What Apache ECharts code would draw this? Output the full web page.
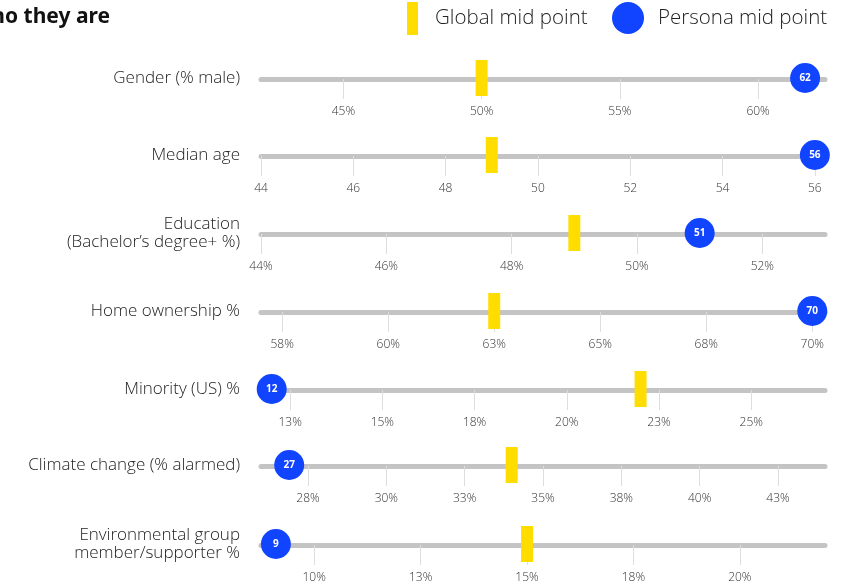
<!DOCTYPE html>
<html>
<head>
<meta charset="utf-8">
<title>Who they are</title>
<script src="https://cdn.jsdelivr.net/npm/echarts@6/dist/echarts.min.js"></script>
<style>
	html,body{margin:0;padding:0;background:#fff;}
	#chart{width:846px;height:586px;}
</style>
</head>
<body>
<div id="chart"></div>
<script>
var rowNames = [
	'Gender (% male)',
	'Median age',
	'Education\n(Bachelor\u2019s degree+ %)',
	'Home ownership %',
	'Minority (US) %',
	'Climate change (% alarmed)',
	'Environmental group\nmember/supporter %'
];
var globalMid = [50, 49, 49, 62.5, 22, 34, 15];
var personaMid = [61.7, 56, 51, 70, 12, 26.9, 9.1];
var axisMin = [42.02, 44, 44, 57, 11.71, 26, 8.75];
var axisMax = [62.42, 56.22, 53, 70.3, 27, 44, 22];
var tickValues = [
	[45, 50, 55, 60],
	[44, 46, 48, 50, 52, 54, 56],
	[44, 46, 48, 50, 52],
	[57.5, 60, 62.5, 65, 67.5, 70],
	[12.5, 15, 17.5, 20, 22.5, 25],
	[27.5, 30, 32.5, 35, 37.5, 40, 42.5],
	[10, 12.5, 15, 17.5, 20]
];
var tickSuffix = ['%', '', '%', '%', '%', '%', '%'];

var rowY = [78, 155, 233, 311, 389, 465, 544];   // line centre of each row
var YELLOW = '#FFDD00';
var BLUE = '#1144FF';
var FONT = '"Open Sans"';

function init(){
	var myChart = echarts.init(document.getElementById('chart'), null, {renderer:'canvas'});
	myChart.setOption(getOption());
}

function getOption(){
	var grids = [], xAxes = [], yAxes = [], series = [];
	rowNames.forEach(function(name, i){
		var suffix = tickSuffix[i];
		grids.push({
			left: 261,
			right: 21,
			top: rowY[i] - 1,
			height: 2,
			outerBoundsMode: 'none'
		});
		xAxes.push({
			gridIndex: i,
			type: 'value',
			min: axisMin[i],
			max: axisMax[i],
			position: 'bottom',
			axisLine: {
				show: true,
				onZero: false,
				lineStyle: {color: '#c4c4c4', width: 5}
			},
			axisTick: {
				show: true,
				length: 20,
				customValues: tickValues[i],
				lineStyle: {color: '#dedede', width: 1}
			},
			axisLabel: {
				customValues: tickValues[i],
				margin: 27,
				fontFamily: FONT,
				fontWeight: 300,
				fontSize: 12,
				color: '#333',
				formatter: function(v){ return Math.round(v) + suffix; }
			},
			splitLine: {show: false}
		});
		yAxes.push({
			gridIndex: i,
			type: 'category',
			data: [name],
			axisLine: {show: false},
			axisTick: {show: false},
			splitLine: {show: false},
			axisLabel: {
				margin: 21,
				fontFamily: FONT,
				fontWeight: 300,
				fontSize: 17,
				lineHeight: 18,
				color: '#222',
				align: 'right'
			}
		});
		series.push({
			name: 'Global mid point',
			type: 'scatter',
			xAxisIndex: i,
			yAxisIndex: i,
			data: [[globalMid[i], 0]],
			symbol: 'rect',
			symbolSize: [12, 36],
			itemStyle: {color: YELLOW, opacity: 1},
			z: 3
		});
		series.push({
			name: 'Persona mid point',
			type: 'scatter',
			xAxisIndex: i,
			yAxisIndex: i,
			data: [[personaMid[i], 0]],
			symbol: 'circle',
			symbolSize: 30,
			itemStyle: {color: BLUE, opacity: 1},
			label: {
				show: true,
				position: 'inside',
				color: '#fff',
				fontFamily: FONT,
				fontSize: 10,
				fontWeight: 'bold',
				formatter: function(p){ return Math.round(p.value[0]); }
			},
			z: 4
		});
	});

	return {
		backgroundColor: '#fff',
		animation: false,
		grid: grids,
		xAxis: xAxes,
		yAxis: yAxes,
		series: series,
		graphic: [
			{type:'text', x:110, y:17, style:{text:'Who they are', font:'bold 21px "Noto Sans"', fill:'#111', align:'right', verticalAlign:'middle'}},
			{type:'rect', x:407, y:2, shape:{width:11, height:33}, style:{fill:YELLOW}},
			{type:'text', x:435, y:18, style:{text:'Global mid point', font:'300 20.5px ' + FONT, fill:'#222', verticalAlign:'middle'}},
			{type:'circle', shape:{cx:628, cy:18, r:16}, style:{fill:BLUE}},
			{type:'text', x:658, y:18, style:{text:'Persona mid point', font:'300 20.5px ' + FONT, fill:'#222', verticalAlign:'middle'}}
		]
	};
}

init();
</script>
</body>
</html>
